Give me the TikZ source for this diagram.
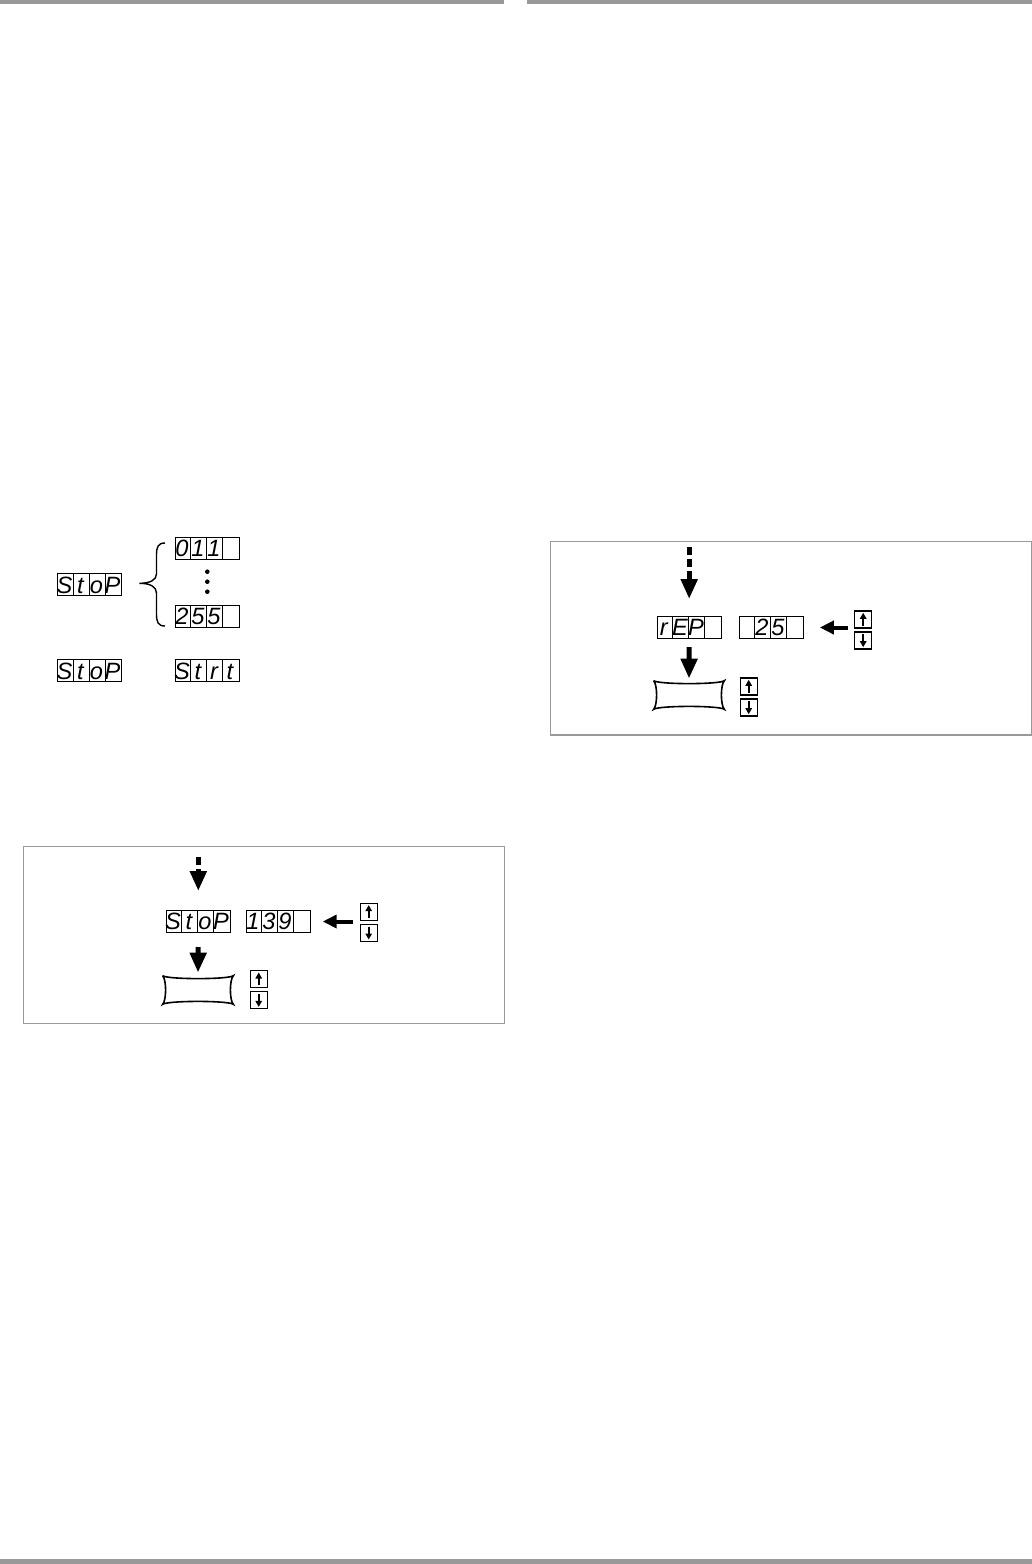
\documentclass[tikz,border=0pt]{standalone}
\usepackage{fontspec}
\usetikzlibrary{arrows.meta, calc}
\newfontfamily\lcdfont{Liberation Sans}
\definecolor{rulegray}{HTML}{999999}

\tikzset{
  lcdbox/.style={draw, line width=0.5pt, minimum width=32pt, minimum height=11pt, inner sep=0pt},
  lcdchar/.style={inner sep=0pt, anchor=base, font=\lcdfont\itshape\fontsize{11.8}{11.8}\selectfont},
  keybox/.style={draw, line width=0.6pt, minimum size=8.5pt, inner sep=0pt},
  keyglyph/.style={line width=0.9pt, -{Triangle[width=3.2pt,length=3pt]}},
  bigarrow/.style={line width=2.5pt, -{Triangle[width=8pt,length=10pt]}},
  dasharrow/.style={bigarrow, dash pattern=on 4pt off 2pt},
  sidearrow/.style={line width=2pt, -{Triangle[width=6.5pt,length=7pt]}},
  blankdisp/.style={minimum width=35pt, minimum height=14pt, inner sep=0pt},
  cushion/.style={line width=0.8pt},
  frame/.style={draw=rulegray, line width=0.6pt},
}

% name, centre, characters
\newcommand{\segdisplay}[3]{
  \node[lcdbox] (#1) at (#2) {};
  \foreach \d in {1,2,3}
    \draw[line width=0.5pt] ([xshift=\d*8pt]#1.north west) -- ([xshift=\d*8pt]#1.south west);
  \foreach \c [count=\i] in {#3}
    \node[lcdchar] (#1-\i) at ([xshift=\i*8pt-4.4pt, yshift=-4.2pt]#1.west) {\c};
}

% name, centre between the two keys
\newcommand{\keypair}[2]{
  \node[keybox] (#1-up) at ($(#2)+(0,-10.5)$) {};
  \node[keybox] (#1-dn) at ($(#2)+(0,10.5)$) {};
  \draw[keyglyph] ([yshift=1.5pt]#1-up.south) -- ([yshift=-1.2pt]#1-up.north);
  \draw[keyglyph] ([yshift=-1.5pt]#1-dn.north) -- ([yshift=1.2pt]#1-dn.south);
}

% name, centre
\newcommand{\lcdblank}[2]{
  \node[blankdisp] (#1) at (#2) {};
  \draw[cushion] (#1.north west) .. controls +(4,4) and +(-4,4) .. (#1.north east)
    .. controls +(-4,4) and +(-4,-4) .. (#1.south east)
    .. controls +(-4,-4) and +(4,-4) .. (#1.south west)
    .. controls +(4,-4) and +(4,4) .. (#1.north west);
}

\begin{document}
\begin{tikzpicture}[x=0.5pt, y=-0.5pt]
\useasboundingbox (0,0) rectangle (1032,1564);

% page rules
\fill[rulegray] (0,0) rectangle (504,4);
\fill[rulegray] (527,0) rectangle (1032,4);
\fill[rulegray] (0,1559) rectangle (1032,1564);

% stop value range
\segdisplay{stopA}{89.8,584.8}{S,t,o,P}
\segdisplay{valA}{207.3,548.3}{0,1,1,{}}
\segdisplay{valB}{207.3,616.5}{2,5,5,{}}
\draw[line width=0.7pt] (165,543) .. controls (158,543) and (156.5,547) .. (156.5,555) -- (156.5,574)
  .. controls (156.5,580) and (150,583.3) .. (139.3,583.3)
  .. controls (150,583.3) and (156.5,586.6) .. (156.5,593) -- (156.5,614)
  .. controls (156.5,622) and (158,626) .. (165,626);
\foreach \y in {571.7,581.7,591.7}
  \fill (207.3,\y) circle (2.3);

\segdisplay{stopB}{89.8,670.8}{S,t,o,P}
\segdisplay{strt}{207.3,670.8}{S,t,r,t}

% stop setting
\draw[frame] (23.3,846.3) rectangle (504.3,1023.3);
\coordinate (inA) at (198.3,857);
\segdisplay{stopC}{198.3,921.5}{S,t,o,P}
\segdisplay{valC}{278.2,921.5}{1,3,9,{}}
\keypair{keysA}{368.7,922.3}
\lcdblank{blankA}{198,990}
\keypair{keysB}{258.7,989.7}
\draw[dasharrow, shorten >=9.5pt] (inA) -- (stopC.north);
\draw[bigarrow, shorten <=7pt, shorten >=1.5pt] (stopC.south) -- (blankA.north);
\draw[sidearrow, shorten <=3.5pt, shorten >=6pt] (valC.east -| keysA-up.west) -- (valC.east);

% rep setting
\draw[frame] (550.3,541.3) rectangle (1031.3,735);
\coordinate (inB) at (689.2,547);
\segdisplay{rep}{689.2,627.5}{r,E,P,{}}
\segdisplay{valD}{771.3,627.5}{{},2,5,{}}
\keypair{keysC}{863.2,630}
\lcdblank{blankB}{689,695}
\keypair{keysD}{748.7,697}
\draw[dasharrow, shorten >=8.5pt] (inB) -- (rep.north);
\draw[bigarrow, shorten <=4pt, shorten >=1pt] (rep.south) -- (blankB.north);
\draw[sidearrow, shorten <=3pt, shorten >=8pt] (valD.east -| keysC-up.west) -- (valD.east);

\end{tikzpicture}
\end{document}
